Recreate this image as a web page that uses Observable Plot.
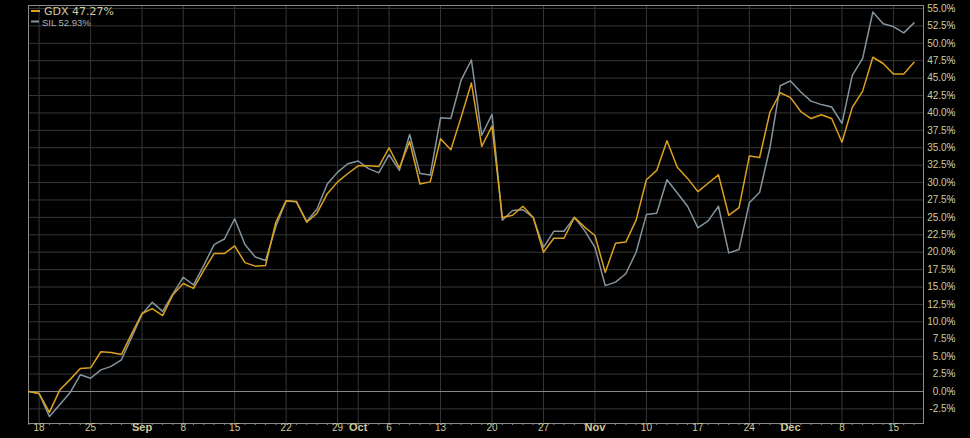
<!DOCTYPE html>
<html>
<head>
<meta charset="utf-8">
<script src="https://cdn.jsdelivr.net/npm/d3@7"></script>
<script src="https://cdn.jsdelivr.net/npm/@observablehq/plot@0.6"></script>
<style>
  html, body { margin: 0; padding: 0; background: #000; }
  #wrap { position: relative; width: 970px; height: 438px; overflow: hidden; background: #000; }
  #legend { position: absolute; left: 0; top: 0; }
</style>
</head>
<body>
<div id="wrap"><div id="chart"></div><svg id="legend" width="200" height="32"></svg></div>
<script>
// Daily % change since Aug 15 (trading days, Aug 15 .. Dec 17)
const gdx = [
  0, -0.3, -3.0, 0.2, 1.7, 3.3, 3.4, 5.7, 5.6, 5.3,
  8.3, 11.2, 11.9, 10.9, 13.9, 15.5, 14.8, 17.4, 19.8, 19.8,
  20.9, 18.5, 18.0, 18.1, 24.3, 27.4, 27.3, 24.3, 25.6, 28.4,
  30.1, 31.3, 32.4, 32.4, 32.3, 35.0, 32.1, 35.9, 29.8, 30.1,
  36.3, 34.7, 39.4, 44.3, 35.2, 38.1, 25.0, 25.3, 26.6, 25.0,
  20.0, 22.0, 22.0, 25.0, 23.6, 22.4, 17.1, 21.3, 21.45, 24.6,
  30.4, 31.75, 36.0, 32.2, 30.6, 28.7, 29.9, 31.1, 25.3, 26.4,
  33.8, 33.6, 40.1, 42.9, 42.2, 40.2, 39.2, 39.75, 39.2, 35.8,
  40.8, 43.1, 48.0, 47.1, 45.6, 45.6, 47.27
];
const sil = [
  0, -0.3, -3.6, -1.9, -0.2, 2.4, 1.9, 3.1, 3.6, 4.55,
  7.8, 11.1, 12.8, 11.5, 14.0, 16.4, 15.3, 18.1, 21.1, 21.9,
  24.8, 21.1, 19.3, 18.8, 23.7, 27.4, 27.2, 24.4, 26.2, 29.8,
  31.5, 32.7, 33.1, 32.0, 31.4, 34.0, 31.75, 36.9, 31.3, 31.1,
  39.3, 39.2, 44.7, 47.6, 36.8, 39.8, 24.6, 26.0, 26.1, 25.0,
  20.7, 23.0, 23.0, 25.0, 23.1, 20.7, 15.2, 15.7, 16.9, 20.0,
  25.4, 25.6, 30.4, 28.5, 26.6, 23.5, 24.5, 26.6, 19.9, 20.4,
  27.1, 28.6, 35.0, 43.9, 44.6, 43.0, 41.7, 41.2, 40.85, 38.5,
  45.4, 47.8, 54.5, 52.8, 52.4, 51.5, 52.93
];
// x-axis ticks (trading-day index) and their labels
const tickIdx    = [1, 6, 11, 15, 20, 25, 30, 32, 35, 40, 45, 50, 55, 60, 65, 70, 74, 79, 84];
const tickLabels = ["18", "25", "Sep", "8", "15", "22", "29", "Oct", "6", "13", "20", "27", "Nov", "10", "17", "24", "Dec", "8", "15"];
const tickMonth  = [false, false, true, false, false, false, false, true, false, false, false, false, true, false, false, false, true, false, false];
// y-axis ticks
const yTicks = [-2.5, 0, 2.5, 5, 7.5, 10, 12.5, 15, 17.5, 20, 22.5, 25, 27.5, 30, 32.5, 35, 37.5, 40, 42.5, 45, 47.5, 50, 52.5, 55];

const seriesNames = ["SIL", "GDX"];
const colors = { GDX: "#dca21e", SIL: "#8495a0" };

const rows = [];
sil.forEach((v, i) => rows.push({ series: "SIL", i, v }));
gdx.forEach((v, i) => rows.push({ series: "GDX", i, v }));
const ticks = tickIdx.map((i, k) => ({ i, label: tickLabels[k], month: tickMonth[k] }));
const dayIdx = d3.range(gdx.length);

const labelColor = "#cfcb9c";
const gridColor = "#363636";
const axisColor = "#8a8a8a";

const chart = Plot.plot({
  width: 970,
  height: 438,
  marginLeft: 28,
  marginRight: 47,
  marginTop: 5,
  marginBottom: 15,
  style: { background: "#000", color: labelColor, fontFamily: "'Liberation Sans', Arial, sans-serif", fontSize: "10px" },
  x: { domain: [-0.03, 86.92], axis: null },
  y: { domain: [-4.6, 55.43], axis: null },
  color: { domain: seriesNames, range: seriesNames.map(s => colors[s]) },
  marks: [
    Plot.gridY(yTicks, { stroke: gridColor, strokeOpacity: 1 }),
    Plot.ruleX(tickIdx, { stroke: gridColor, strokeOpacity: 1 }),
    Plot.ruleY([0], { stroke: axisColor }),
    Plot.frame({ stroke: axisColor }),
    Plot.axisY(yTicks, {
      anchor: "right", label: null, tickSize: 3, tickPadding: 3, textAnchor: "end", dx: 26,
      tickFormat: d => d.toFixed(1) + "%", stroke: axisColor, fill: labelColor, fontSize: 10
    }),
    Plot.axisX(dayIdx, { anchor: "bottom", label: null, tickSize: 2, stroke: axisColor, fill: "none" }),
    Plot.text(ticks.filter(d => !d.month), { x: "i", text: "label", frameAnchor: "bottom", dy: 7, fill: labelColor, fontSize: 10 }),
    Plot.text(ticks.filter(d => d.month), { x: "i", text: "label", frameAnchor: "bottom", dy: 7, fill: labelColor, fontSize: 11, fontWeight: "bold" }),
    Plot.line(rows, { x: "i", y: "v", z: "series", stroke: "series", strokeWidth: 1.5 })
  ]
});
document.getElementById("chart").appendChild(chart);

// legend
const lg = d3.select("#legend");
lg.append("line").attr("x1", 31).attr("x2", 40).attr("y1", 11).attr("y2", 11).attr("stroke", colors.GDX).attr("stroke-width", 2);
lg.append("text").attr("x", 44).attr("y", 14.5).attr("fill", "#cfcb9c")
  .style("font", "11px 'DejaVu Sans', sans-serif").text(`GDX ${gdx[gdx.length - 1].toFixed(2)}%`);
lg.append("line").attr("x1", 31).attr("x2", 39).attr("y1", 21.5).attr("y2", 21.5).attr("stroke", colors.SIL).attr("stroke-width", 2);
lg.append("text").attr("x", 42).attr("y", 25.5).attr("fill", "#a9b3ba")
  .style("font", "9.5px 'Liberation Sans', Arial, sans-serif").text(`SIL ${sil[sil.length - 1].toFixed(2)}%`);
</script>
</body>
</html>
